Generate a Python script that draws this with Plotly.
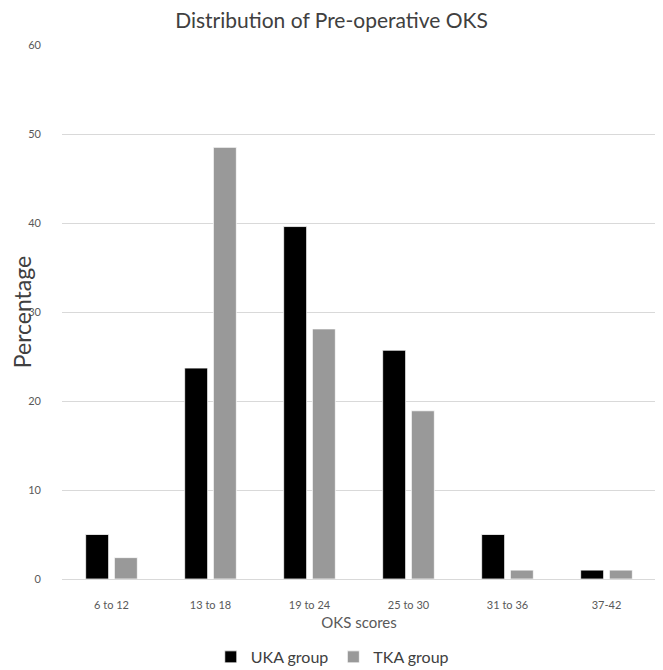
import plotly.graph_objects as go

categories = ["6 to 12", "13 to 18", "19 to 24", "25 to 30", "31 to 36", "37-42"]
uka_values = [5.0, 23.7, 39.6, 25.7, 5.0, 1.0]
tka_values = [2.4, 48.5, 28.1, 18.9, 1.0, 1.0]

FONT = "Lato, 'Open Sans', sans-serif"

fig = go.Figure()
fig.add_trace(go.Bar(name="UKA group", x=categories, y=uka_values,
                     marker=dict(color="#000000", line=dict(color="#ffffff", width=0.75))))
fig.add_trace(go.Bar(name="TKA group", x=categories, y=tka_values,
                     marker=dict(color="#999999", line=dict(color="#ffffff", width=0.75))))

fig.update_layout(
    width=663, height=670,
    paper_bgcolor="white", plot_bgcolor="white",
    font=dict(family=FONT, color="#595959"),
    title=dict(text="Distribution of Pre-operative OKS", x=0.488, xanchor="center",
               y=0.981, yanchor="middle",
               font=dict(size=21, color="#404040", family=FONT)),
    barmode="group", bargap=0.42, bargroupgap=0.2,
    margin=dict(l=54, r=15, t=37, b=99, autoexpand=False),
    showlegend=True,
    legend=dict(orientation="h", x=0.455, xanchor="center", y=-0.146, yanchor="middle",
                font=dict(size=16, color="#404040", family=FONT),
                itemwidth=30, tracegroupgap=0),
    xaxis=dict(showgrid=False, showline=False, ticks="", zeroline=False, automargin=False,
               ticklabelstandoff=18,
               tickfont=dict(size=11, color="#595959"),
               title=dict(text="OKS scores", font=dict(size=15, color="#595959"), standoff=7)),
    yaxis=dict(range=[0, 60], dtick=10, showgrid=True, gridcolor="#d9d9d9", gridwidth=1,
               zeroline=True, zerolinecolor="#d9d9d9", zerolinewidth=1, automargin=False,
               showline=False, ticks="", ticklabelstandoff=20,
               tickfont=dict(size=11, color="#595959"),
               title=dict(text="Percentage", font=dict(size=23, color="#404040"), standoff=6)),
)

fig.write_html("out.html")
